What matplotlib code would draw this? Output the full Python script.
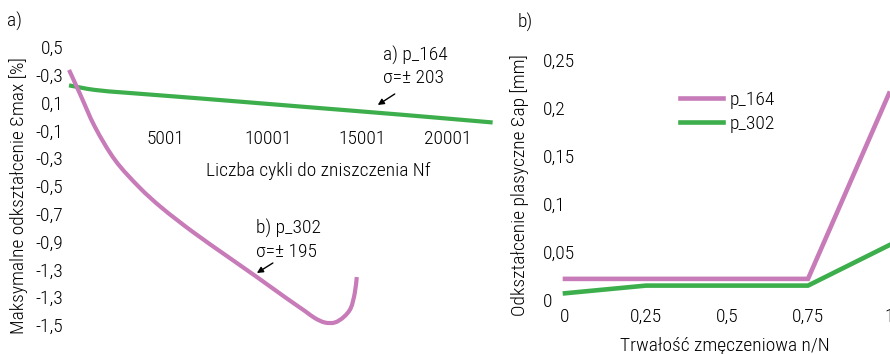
import matplotlib
matplotlib.use("Agg")
import matplotlib.pyplot as plt
from matplotlib.path import Path
from matplotlib.patches import PathPatch

FAM = ['Roboto Condensed', 'Barlow Semi Condensed', 'DejaVu Sans']
plt.rcParams['font.family'] = FAM
plt.rcParams['font.weight'] = 'light'
plt.rcParams['font.size'] = 14

PINK = '#C77BB8'
GREEN = '#3DAE4C'

# ---- panel a data ----
a_green_nf = [1, 1373, 3220, 6914, 12191, 17468, 22375]
a_green_eps = [0.224, 0.191, 0.169, 0.130, 0.072, 0.014, -0.043]
a_pink_nf = [1, 581, 1373, 2428, 3695, 4909, 6545, 8339, 9922, 11399, 12455,
             12982, 13510, 14038, 14513, 14882, 15093, 15199]
a_pink_eps = [0.335, 0.162, -0.076, -0.313, -0.507, -0.658, -0.831, -1.004,
              -1.155, -1.299, -1.399, -1.450, -1.482, -1.482, -1.442, -1.378,
              -1.270, -1.155]
a_ytick_vals = [0.5, 0.3, 0.1, -0.1, -0.3, -0.5, -0.7, -0.9, -1.1, -1.3, -1.5]
a_ytick_labels = ['0,5', '-0,3', '0,1', '-0,1', '-0,3', '-0,5', '-0,7', '-0,9',
                  '-1,3', '-1,3', '-1,5']
a_xtick_pos = [5120, 10500, 15460, 20001]
a_xtick_labels = ['5001', '10001', '15001', '20001']

# ---- panel b data ----
b_x = [0, 0.25, 0.5, 0.75, 1]
b_p164 = [0.022, 0.022, 0.022, 0.022, 0.215]
b_p302 = [0.007, 0.015, 0.015, 0.015, 0.057]
b_ytick_vals = [0, 0.05, 0.1, 0.15, 0.2, 0.25]
b_ytick_labels = ['0', '0,05', '0,1', '0,15', '0,2', '0,25']
b_xtick_labels = ['0', '0,25', '0,5', '0,75', '1']

W, H = 890, 354
fig = plt.figure(figsize=(W / 100, H / 100), dpi=100)


def fx(px):
    return px / W


def fy(py):
    return 1 - py / H


def smooth_path(xs, ys):
    """Catmull-Rom curve through the data points, as cubic Bezier segments."""
    pts = list(zip(xs, ys))
    n = len(pts)
    verts = [pts[0]]
    codes = [Path.MOVETO]
    for i in range(n - 1):
        p0 = pts[i - 1] if i > 0 else pts[i]
        p1 = pts[i]
        p2 = pts[i + 1]
        p3 = pts[i + 2] if i + 2 < n else pts[i + 1]
        c1 = (p1[0] + (p2[0] - p0[0]) / 6, p1[1] + (p2[1] - p0[1]) / 6)
        c2 = (p2[0] - (p3[0] - p1[0]) / 6, p2[1] - (p3[1] - p1[1]) / 6)
        verts += [c1, c2, p2]
        codes += [Path.CURVE4] * 3
    return Path(verts, codes)


# ---------------- panel a ----------------
ax = fig.add_axes([fx(66), fy(325), (495 - 66) / W, (325 - 47) / H])
ax.set_xlim(-160, 22500)
ax.set_ylim(-1.5, 0.5)
for s in ax.spines.values():
    s.set_visible(False)
ax.spines['bottom'].set_position(('data', 0))
ax.add_patch(PathPatch(smooth_path(a_green_nf, a_green_eps), fill=False, edgecolor=GREEN,
                       lw=3.0, capstyle='butt', clip_on=False))
ax.add_patch(PathPatch(smooth_path(a_pink_nf, a_pink_eps), fill=False, edgecolor=PINK,
                       lw=3.0, capstyle='butt', clip_on=False))
ax.set_yticks(a_ytick_vals)
ax.set_yticklabels(a_ytick_labels)
ax.set_xticks(a_xtick_pos)
ax.set_xticklabels(a_xtick_labels)
ax.tick_params(axis='y', length=0, pad=2, labelsize=14)
ax.tick_params(axis='x', length=0, pad=10, labelsize=14)

ax.text(16571, 0.442, 'a) p_164', ha='left', va='center', fontsize=14)
ax.text(16571, 0.277, 'σ=± 203', ha='left', va='center', fontsize=14)
ax.annotate('', xy=(16307, 0.083), xytext=(17204, 0.162),
            arrowprops=dict(arrowstyle='-|>', lw=1.0, color='black', mutation_scale=9,
                            shrinkA=0, shrinkB=0))
ax.text(9869, -0.809, 'b) p_302', ha='left', va='center', fontsize=14)
ax.text(9869, -0.975, 'σ=± 195', ha='left', va='center', fontsize=14)
ax.annotate('', xy=(9922, -1.126), xytext=(10766, -1.054),
            arrowprops=dict(arrowstyle='-|>', lw=1.0, color='black', mutation_scale=9,
                            shrinkA=0, shrinkB=0))

fig.text(fx(318), fy(171), 'Liczba cykli do zniszczenia Nf', ha='center', va='center', fontsize=14)
fig.text(fx(19), fy(196), 'Maksymalne odkształcenie Ɛmax [%]', ha='center', va='center',
         rotation=90, fontsize=14)
fig.text(fx(15), fy(21), 'a)', ha='center', va='center', fontsize=14)

# ---------------- panel b ----------------
bx = fig.add_axes([fx(558.5), fy(304.8), (921.4 - 558.5) / W, (304.8 - 40.8) / H])
bx.set_xlim(-0.02, 1.1)
bx.set_ylim(-0.005, 0.27)
for s in bx.spines.values():
    s.set_visible(False)
bx.plot(b_x, b_p164, color=PINK, lw=3.3, label='p_164', solid_joinstyle='miter')
bx.plot(b_x, b_p302, color=GREEN, lw=3.3, label='p_302', solid_joinstyle='miter')
bx.set_yticks(b_ytick_vals)
bx.set_yticklabels(b_ytick_labels)
for t in bx.get_yticklabels():
    t.set_ha('left')
bx.set_xticks(b_x)
bx.set_xticklabels(b_xtick_labels)
bx.tick_params(axis='y', length=0, pad=11.2, labelsize=14)
bx.tick_params(axis='x', length=0, pad=2, labelsize=14)

leg = bx.legend(loc='upper left', bbox_to_anchor=(fx(680), fy(91)), bbox_transform=fig.transFigure,
                frameon=False, fontsize=14, handlelength=2.2, handletextpad=0.35,
                labelspacing=0.3, borderpad=0, borderaxespad=0)

fig.text(fx(725), fy(346), 'Trwałość zmęczeniowa n/N', ha='center', va='center', fontsize=14)
fig.text(fx(520), fy(185), 'Odkształcenie plasyczne Ɛap [mm]', ha='center', va='center',
         rotation=90, fontsize=14)
fig.text(fx(525), fy(22), 'b)', ha='center', va='center', fontsize=14)

fig.savefig('out.png', dpi=100)
